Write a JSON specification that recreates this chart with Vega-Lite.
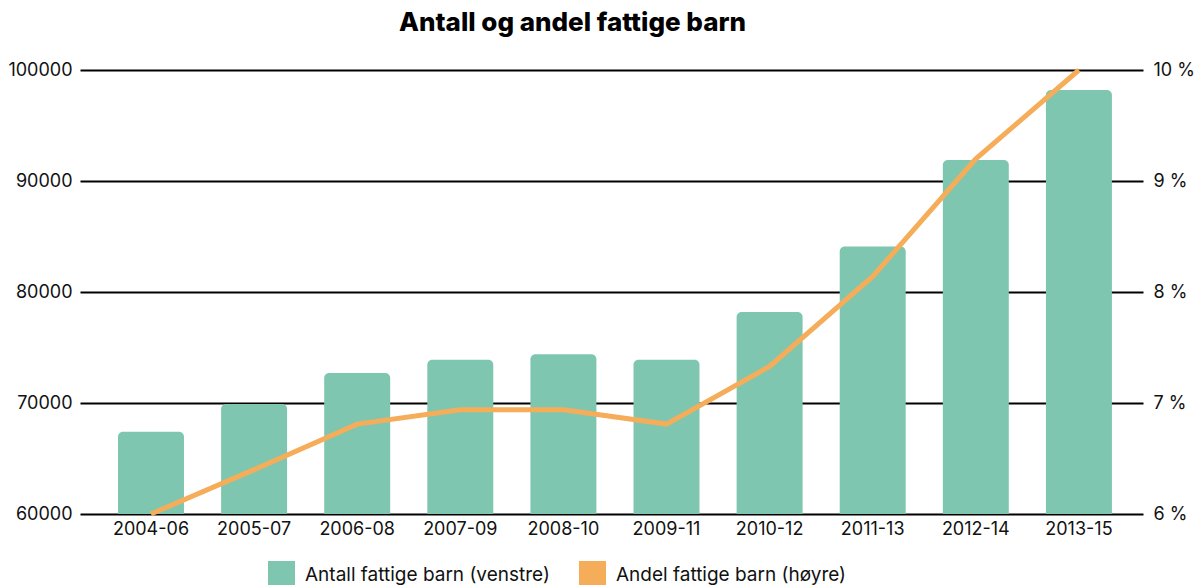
{
  "$schema": "https://vega.github.io/schema/vega-lite/v6.json",
  "width": 1063,
  "height": 444,
  "autosize": {"type": "none"},
  "padding": {"left": 80, "top": 70, "right": 51, "bottom": 71},
  "background": "white",
  "config": {
    "view": {"stroke": null},
    "font": "Inter",
    "axis": {"labelFont": "Inter", "labelFontSize": 18, "labelColor": "#111111", "domain": false, "ticks": false, "title": null}
  },
  "title": {
    "text": "Antall og andel fattige barn",
    "font": "Inter",
    "fontSize": 26,
    "fontWeight": 800,
    "color": "#000000",
    "anchor": "middle",
    "dx": -39,
    "offset": 24
  },
  "data": {
    "values": [
      {"periode": "2004-06", "antall": 67400, "andel": 6.0},
      {"periode": "2005-07", "antall": 69900, "andel": 6.4},
      {"periode": "2006-08", "antall": 72700, "andel": 6.81},
      {"periode": "2007-09", "antall": 73900, "andel": 6.94},
      {"periode": "2008-10", "antall": 74400, "andel": 6.94},
      {"periode": "2009-11", "antall": 73900, "andel": 6.81},
      {"periode": "2010-12", "antall": 78200, "andel": 7.33},
      {"periode": "2011-13", "antall": 84100, "andel": 8.14},
      {"periode": "2012-14", "antall": 91900, "andel": 9.2},
      {"periode": "2013-15", "antall": 98200, "andel": 10.0}
    ]
  },
  "encoding": {
    "x": {
      "field": "periode",
      "type": "nominal",
      "sort": null,
      "scale": {"paddingInner": 0.36, "paddingOuter": 0.335, "align": 0.55},
      "axis": {"labelAngle": 0, "labelPadding": 6, "grid": false}
    }
  },
  "layer": [
    {
      "mark": {"type": "bar", "cornerRadiusTopLeft": 5, "cornerRadiusTopRight": 5},
      "encoding": {
        "y": {
          "field": "antall",
          "type": "quantitative",
          "scale": {"domain": [60000, 100000], "zero": false, "nice": false},
          "axis": {
            "values": [60000, 70000, 80000, 90000, 100000],
            "format": "d",
            "grid": true,
            "gridColor": "#000000",
            "gridWidth": 2,
            "labelPadding": 8
          }
        },
        "y2": {"datum": 60000},
        "color": {
          "datum": "Antall fattige barn (venstre)",
          "type": "nominal",
          "scale": {
            "domain": ["Antall fattige barn (venstre)", "Andel fattige barn (høyre)"],
            "range": ["#7fc6b0", "#f5ad5a"]
          },
          "legend": {
            "title": null,
            "orient": "none",
            "direction": "horizontal",
            "columns": 2,
            "legendX": 188,
            "legendY": 491,
            "padding": 0,
            "symbolType": "square",
            "symbolSize": 729,
            "symbolStrokeWidth": 0,
            "labelFont": "Inter",
            "labelFontSize": 19,
            "labelColor": "#111111",
            "labelOffset": 10,
            "columnPadding": 29,
            "labelLimit": 400,
            "encode": {
              "symbols": {"update": {"fill": {"scale": "color", "field": "value"}, "opacity": {"value": 1}, "strokeWidth": {"value": 0}}}
            }
          }
        }
      }
    },
    {
      "mark": {"type": "line", "strokeWidth": 5},
      "encoding": {
        "y": {
          "field": "andel",
          "type": "quantitative",
          "scale": {"domain": [6, 10], "zero": false, "nice": false},
          "axis": {
            "orient": "right",
            "values": [6, 7, 8, 9, 10],
            "labelExpr": "datum.value + ' %'",
            "grid": false,
            "labelPadding": 10
          }
        },
        "color": {"datum": "Andel fattige barn (høyre)", "type": "nominal"}
      }
    }
  ],
  "resolve": {"scale": {"y": "independent"}}
}
